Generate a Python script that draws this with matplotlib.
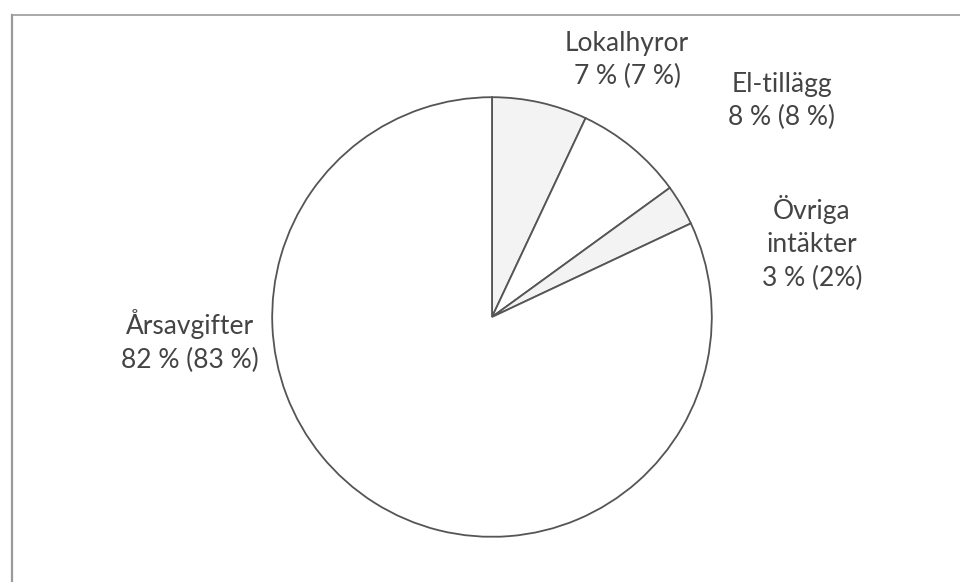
import matplotlib
matplotlib.use("Agg")
import matplotlib.pyplot as plt
from matplotlib.lines import Line2D

# Intäktsfördelning (andel i procent, föregående år inom parentes)
categories = ["Lokalhyror", "El-tillägg", "Övriga\nintäkter", "Årsavgifter"]
shares = [7, 8, 3, 82]
labels = ["Lokalhyror\n7 % (7 %)", "El-tillägg\n8 % (8 %)",
          "Övriga\nintäkter\n3 % (2%)", "Årsavgifter\n82 % (83 %)"]
colors = ["#f3f3f3", "#ffffff", "#f3f3f3", "#ffffff"]

W, H = 960, 582
fig = plt.figure(figsize=(W / 100, H / 100), dpi=100)
plt.rcParams["font.family"] = ["Lato", "DejaVu Sans"]

# frame (top and left edge of the scanned box)
fig.add_artist(Line2D([12 / W, 1.0], [1 - 15 / H, 1 - 15 / H],
                      color="#9a9a9a", lw=1.2, transform=fig.transFigure))
fig.add_artist(Line2D([12 / W, 12 / W], [0, 1 - 15 / H],
                      color="#9a9a9a", lw=1.6, transform=fig.transFigure))

cx, cy, r = 492, 317, 222
ax = fig.add_axes([(cx - r) / W, (H - cy - r) / H, 2 * r / W, 2 * r / H])
ax.pie(shares, colors=colors, startangle=90, counterclock=False,
       wedgeprops=dict(edgecolor="#555555", linewidth=1.3))
ax.set_xlim(-1.01, 1.01)
ax.set_ylim(-1.01, 1.01)
ax.set_aspect("equal")
ax.axis("off")

# label positions in pixels (centre of text block)
label_pos = [(627, 60), (782, 101), (812, 243), (190, 341)]
for text, (x, y) in zip(labels, label_pos):
    fig.text(x / W, 1 - y / H, text, ha="center", va="center",
             fontsize=19, color="#444444", linespacing=1.4)

fig.savefig("out.png", dpi=100)
